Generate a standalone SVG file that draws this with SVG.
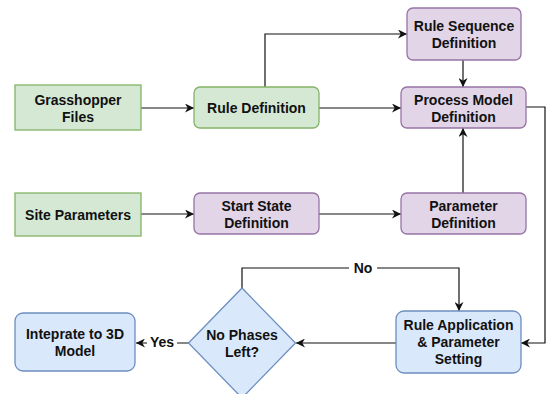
<svg xmlns="http://www.w3.org/2000/svg" width="546" height="394" viewBox="0 0 546 394">
  <style>
    .green { fill: #d5e8d4; stroke: #82b366; stroke-width: 1.3; }
    .purple { fill: #e1d5e7; stroke: #9673a6; stroke-width: 1.3; }
    .blue { fill: #dae8fc; stroke: #6c8ebf; stroke-width: 1.3; }
    text { font-family: "Liberation Sans", Arial, sans-serif; font-size: 14px; font-weight: bold; fill: #111; text-anchor: middle; }
    .edge { fill: none; stroke: #111; stroke-width: 1.2; marker-end: url(#arrow); }
  </style>
  <defs>
    <marker id="arrow" viewBox="0 0 10 10" refX="10" refY="5" markerWidth="9" markerHeight="9" markerUnits="userSpaceOnUse" orient="auto">
      <path d="M0,0 L10,5 L0,10 L3,5 z" fill="#111"/>
    </marker>
  </defs>
  <rect width="546" height="394" fill="#fff"/>

  <g id="connectors">
    <path class="edge" d="M141,108 H194"/>
    <path class="edge" d="M265,87 V34 H407"/>
    <path class="edge" d="M319,108 H401"/>
    <path class="edge" d="M463,60 V87"/>
    <path class="edge" d="M141,214 H194"/>
    <path class="edge" d="M319,214 H401"/>
    <path class="edge" d="M463,193 V128"/>
    <path class="edge" d="M526,107 H545 V343 H521"/>
    <path class="edge" d="M396,343 H296"/>
    <path class="edge" d="M189,343 H136"/>
    <path class="edge" d="M242,288 V268 H459 V311"/>
    <rect x="147" y="333" width="30" height="18" fill="#fff"/>
    <text x="162" y="347">Yes</text>
    <rect x="349" y="259" width="28" height="18" fill="#fff"/>
    <text x="363" y="273">No</text>
  </g>

  <g id="grasshopper-files">
    <rect class="green" x="15" y="85" width="126" height="45"/>
    <text x="78" y="105">Grasshopper</text>
    <text x="78" y="122">Files</text>
  </g>
  <g id="rule-definition">
    <rect class="green" x="194" y="87" width="125" height="41" rx="6"/>
    <text x="256.5" y="113">Rule Definition</text>
  </g>
  <g id="rule-sequence-definition">
    <rect class="purple" x="407" y="8" width="114" height="52" rx="6"/>
    <text x="464" y="31">Rule Sequence</text>
    <text x="464" y="48">Definition</text>
  </g>
  <g id="process-model-definition">
    <rect class="purple" x="401" y="87" width="125" height="41" rx="6"/>
    <text x="463.5" y="105">Process Model</text>
    <text x="463.5" y="122">Definition</text>
  </g>
  <g id="site-parameters">
    <rect class="green" x="15" y="193" width="126" height="43"/>
    <text x="78" y="219.5">Site Parameters</text>
  </g>
  <g id="start-state-definition">
    <rect class="purple" x="194" y="193" width="125" height="41" rx="6"/>
    <text x="256.5" y="210.5">Start State</text>
    <text x="256.5" y="227.5">Definition</text>
  </g>
  <g id="parameter-definition">
    <rect class="purple" x="401" y="193" width="125" height="41" rx="6"/>
    <text x="463.5" y="210.5">Parameter</text>
    <text x="463.5" y="227.5">Definition</text>
  </g>
  <g id="rule-application">
    <rect class="blue" x="396" y="311" width="125" height="62" rx="8"/>
    <text x="458.5" y="330">Rule Application</text>
    <text x="458.5" y="347">&amp; Parameter</text>
    <text x="458.5" y="364">Setting</text>
  </g>
  <g id="no-phases-left">
    <path class="blue" d="M242,288 L295.5,343 L242,398 L188.5,343 Z"/>
    <text x="242" y="339.5">No Phases</text>
    <text x="242" y="356.5">Left?</text>
  </g>
  <g id="integrate-model">
    <rect class="blue" x="15" y="313" width="120" height="58" rx="8"/>
    <text x="75" y="338.5">Inteprate to 3D</text>
    <text x="75" y="355.5">Model</text>
  </g>
</svg>
